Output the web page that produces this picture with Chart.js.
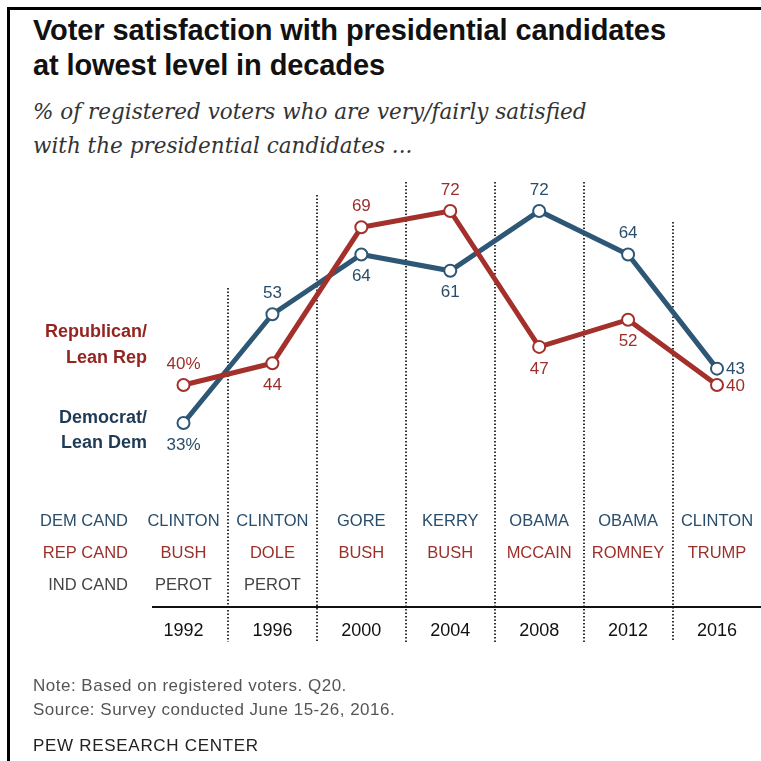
<!DOCTYPE html>
<html>
<head>
<meta charset="utf-8">
<script src="https://cdn.jsdelivr.net/npm/chart.js@4.4.1/dist/chart.umd.min.js"></script>
<style>
  html, body { margin: 0; padding: 0; background: #fff; }
  body { width: 761px; height: 761px; position: relative; overflow: hidden; font-family: "Liberation Sans", Arial, sans-serif; }
  #frame { position: absolute; left: 7px; top: 7px; width: 754px; height: 754px; border-left: 3px solid #000; border-top: 3px solid #000; box-sizing: border-box; }
  #title { position: absolute; left: 33px; top: 13px; font-weight: bold; font-size: 29px; line-height: 35px; color: #111; letter-spacing: -0.1px; }
  #subtitle { position: absolute; left: 33px; top: 95px; font-family: "DejaVu Serif", serif; font-style: italic; font-size: 21.5px; line-height: 34px; color: #333; }
  #note { position: absolute; left: 33px; top: 674px; font-size: 17px; line-height: 24px; color: #555; letter-spacing: 0.5px; }
  #pew { position: absolute; left: 33px; top: 736px; font-size: 17px; color: #222; letter-spacing: 0.7px; }
  #wrap { position: absolute; left: 0; top: 0; width: 761px; height: 761px; }
</style>
</head>
<body>
<div id="frame"></div>
<div id="title">Voter satisfaction with presidential candidates<br>at lowest level in decades</div>
<div id="subtitle">% of registered voters who are very/fairly satisfied<br>with the presidential candidates ...</div>
<div id="wrap"><canvas id="chart"></canvas></div>
<div id="note">Note: Based on registered voters. Q20.<br>Source: Survey conducted June 15-26, 2016.</div>
<div id="pew">PEW RESEARCH CENTER</div>

<script>
// Data
const years = ['1992', '1996', '2000', '2004', '2008', '2012', '2016'];
const repValues = [40, 44, 69, 72, 47, 52, 40];
const demValues = [33, 53, 64, 61, 72, 64, 43];
const demCands = ['CLINTON', 'CLINTON', 'GORE', 'KERRY', 'OBAMA', 'OBAMA', 'CLINTON'];
const repCands = ['BUSH', 'DOLE', 'BUSH', 'BUSH', 'MCCAIN', 'ROMNEY', 'TRUMP'];
const indCands = ['PEROT', 'PEROT', '', '', '', '', ''];

// where each point label sits
const repLabelPos = ['above', 'below', 'above', 'above', 'below', 'below', 'right'];
const demLabelPos = ['below', 'above', 'below', 'below', 'above', 'above', 'right'];

const DEM = '#2e5776';
const REP = '#a3302b';
const DEM_TEXT = '#294d6b';
const REP_TEXT = '#9c2f2a';

const pointLabels = {
  id: 'pointLabels',
  afterDatasetsDraw(chart) {
    const ctx = chart.ctx;
    ctx.save();
    ctx.font = '17px "Liberation Sans", Arial, sans-serif';
    ctx.textBaseline = 'middle';
    chart.data.datasets.forEach((ds, i) => {
      const meta = chart.getDatasetMeta(i);
      meta.data.forEach((pt, j) => {
        let txt = String(ds.data[j]);
        if (j === 0) txt += '%';
        const pos = ds.labelPos[j];
        ctx.fillStyle = ds.textColor;
        if (pos === 'right') {
          ctx.textAlign = 'left';
          ctx.fillText(txt, pt.x + 9, pt.y + 1);
        } else {
          ctx.textAlign = 'center';
          ctx.fillText(txt, pt.x, pos === 'above' ? pt.y - 21 : pt.y + 22);
        }
      });
    });
    ctx.restore();
  }
};

const tableAndGrid = {
  id: 'tableAndGrid',
  beforeDatasetsDraw(chart) {
    const ctx = chart.ctx;
    const x = chart.scales.x;
    const step = x.getPixelForValue(1) - x.getPixelForValue(0);
    const tops = [288, 195, 182, 182, 182, 222];
    ctx.save();
    ctx.strokeStyle = '#333';
    ctx.lineWidth = 2;
    ctx.setLineDash([1.5, 2]);
    for (let i = 0; i < years.length - 1; i++) {
      const sx = Math.round(x.getPixelForValue(i) + step / 2);
      ctx.beginPath();
      ctx.moveTo(sx, tops[i]);
      ctx.lineTo(sx, 642);
      ctx.stroke();
    }
    ctx.setLineDash([]);
    ctx.strokeStyle = '#111';
    ctx.lineWidth = 2;
    ctx.beginPath();
    ctx.moveTo(152, 607);
    ctx.lineTo(761, 607);
    ctx.stroke();
    ctx.restore();
  },
  afterDraw(chart) {
    const ctx = chart.ctx;
    const x = chart.scales.x;
    ctx.save();
    ctx.textBaseline = 'middle';
    ctx.font = '16.5px "Liberation Sans", Arial, sans-serif';
    ctx.textAlign = 'right';
    ctx.fillStyle = DEM_TEXT; ctx.fillText('DEM CAND', 128, 521);
    ctx.fillStyle = REP_TEXT; ctx.fillText('REP CAND', 128, 553);
    ctx.fillStyle = '#444'; ctx.fillText('IND CAND', 128, 585);
    ctx.textAlign = 'center';
    years.forEach((yr, i) => {
      const cx = x.getPixelForValue(i);
      ctx.font = '16.5px "Liberation Sans", Arial, sans-serif';
      ctx.fillStyle = DEM_TEXT; ctx.fillText(demCands[i], cx, 521);
      ctx.fillStyle = REP_TEXT; ctx.fillText(repCands[i], cx, 553);
      ctx.fillStyle = '#444'; ctx.fillText(indCands[i], cx, 585);
      ctx.font = '18px "Liberation Sans", Arial, sans-serif';
      ctx.fillStyle = '#111'; ctx.fillText(yr, cx, 631);
    });
    // series names
    ctx.textAlign = 'right';
    ctx.font = 'bold 18px "Liberation Sans", Arial, sans-serif';
    ctx.fillStyle = '#94241f';
    ctx.fillText('Republican/', 147, 332);
    ctx.fillText('Lean Rep', 147, 358);
    ctx.fillStyle = '#1e3a56';
    ctx.fillText('Democrat/', 147, 418);
    ctx.fillText('Lean Dem', 147, 443);
    ctx.restore();
  }
};

new Chart(document.getElementById('chart').getContext('2d'), {
  type: 'line',
  data: {
    labels: years,
    datasets: [
      {
        label: 'Republican/Lean Rep',
        data: repValues,
        borderColor: REP,
        backgroundColor: '#fff',
        pointBackgroundColor: '#fff',
        pointBorderColor: REP,
        borderWidth: 5,
        pointRadius: 6,
        pointBorderWidth: 2,
        tension: 0,
        labelPos: repLabelPos,
        textColor: REP_TEXT
      },
      {
        label: 'Democrat/Lean Dem',
        data: demValues,
        borderColor: DEM,
        backgroundColor: '#fff',
        pointBackgroundColor: '#fff',
        pointBorderColor: DEM,
        borderWidth: 5,
        pointRadius: 6,
        pointBorderWidth: 2,
        tension: 0,
        labelPos: demLabelPos,
        textColor: DEM_TEXT
      }
    ]
  },
  options: {
    responsive: true,
    maintainAspectRatio: false,
    animation: false,
    layout: { padding: { left: 183.5, right: 44, top: 167.5, bottom: 158.6 } },
    plugins: { legend: { display: false }, tooltip: { enabled: false } },
    scales: {
      x: { type: 'category', display: false, offset: false },
      y: { display: false, min: 0, max: 80 }
    },
    elements: { point: { hoverRadius: 6 } },
    clip: false
  },
  plugins: [tableAndGrid, pointLabels]
});
</script>
</body>
</html>
